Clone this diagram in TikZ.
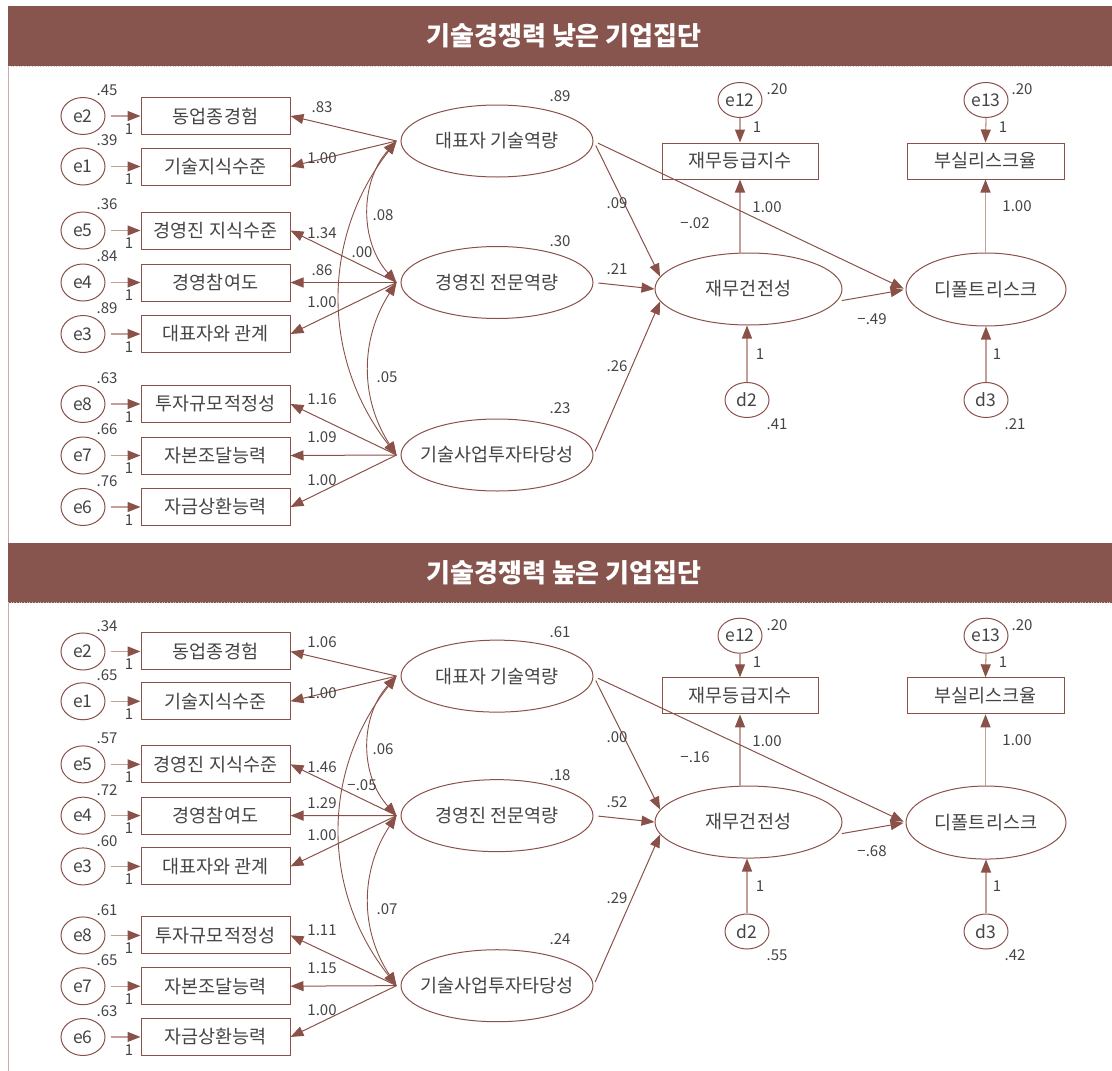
\documentclass[tikz,border=0pt]{standalone}
\usepackage{fontspec}
\setmainfont{Noto Sans CJK KR}
\usetikzlibrary{shapes.geometric,arrows.meta,calc}
\definecolor{dk}{HTML}{8A5149}
\definecolor{lt}{HTML}{C49E98}
\definecolor{hd}{HTML}{87554E}
\definecolor{tx}{HTML}{444444}
\definecolor{bd}{HTML}{C9ADA8}
\newcommand\korsz{\fontsize{18.5}{21}\selectfont}
\newcommand\elabsz{\fontsize{17.5}{20}\selectfont}
\newcommand\numsz{\fontsize{15}{18}\selectfont}
\newcommand\hdsz{\fontsize{26}{30}\selectfont}
\tikzset{
  arr/.style={draw=dk, line width=1pt, -{Triangle[length=13pt,width=10pt]}},
  larr/.style={draw=lt, line width=1.3pt, -{Triangle[length=13pt,width=10pt,color=dk]}},
  cov/.style={draw=dk, line width=0.9pt, {Triangle[length=13pt,width=10pt]}-{Triangle[length=13pt,width=10pt]}},
  obs/.style={draw=dk, line width=1pt, minimum width=149pt, minimum height=37pt, inner sep=0, font=\korsz, text=tx},
  err/.style={ellipse, draw=dk, line width=1pt, minimum width=44pt, minimum height=37pt, inner sep=0, font=\elabsz, text=tx},
  sm/.style={err, minimum height=35pt},
  lat/.style={ellipse, draw=dk, line width=1pt, minimum width=192pt, minimum height=72pt, inner sep=0, font=\korsz, text=tx},
  num/.style={inner sep=0, font=\numsz, text=tx},
  hdrbar/.style={fill=hd, minimum width=1104pt, minimum height=60pt, inner sep=0},
  hdrtxt/.style={text=white, font=\hdsz\bfseries, inner sep=0}
}
\newcommand\drawpanel[3]{%
  \node[hdrbar] (#1hdr) at (560,36) {};
  \node[hdrtxt] (#1ttl) at (564,36) {#2};
  \draw[gray!45, dotted, line width=.7pt] (#1hdr.south west) -- (#1hdr.south east);
  % latent variables
  \node[lat] (#1A) at (497,141) {\makebox[0pt]{대표자 기술역량}};
  \node[lat] (#1B) at (497,282.5) {\makebox[0pt]{경영진 전문역량}};
  \node[lat] (#1C) at (497,455) {\makebox[0pt]{기술사업투자타당성}};
  \coordinate (#1Ap) at ($(#1A.west)+(-4,0)$);
  \coordinate (#1Bp) at ($(#1B.west)+(-4,0)$);
  \coordinate (#1Cp) at ($(#1C.west)+(-4,0)$);
  \node[num] (#1rA) at (560,96) {\vRa};
  \node[num] (#1rB) at (560,241) {\vRb};
  \node[num] (#1rC) at (560,408) {\vRc};
  % indicators
  \foreach \ypos/\en/\lab/\vv/\lw/\lv/\ly in {#3} {
    \node[err] (#1\en) at (83,\ypos) {\en};
    \node[obs] (#1b\en) at (215.5,\ypos) {\lab};
    \draw[larr] ($(#1\en.east)+(5,0)$) -- (#1b\en.west);
    \node[num] at (129,\ypos+13) {1};
    \node[num] at (107,\ypos-26) {\vv};
    \draw[arr] (#1\lv p) -- (#1b\en.east);
    \node[num] at (322,\ly) {\lw};
  }
  % covariances
  \draw[cov] (#1Ap) to[bend right=42] (#1Bp);
  \draw[cov] (#1Bp) to[bend right=33] (#1Cp);
  \draw[cov] (#1Ap) to[bend right=38] (#1Cp);
  \node[num] at (383,215) {\vCab};
  \node[num] at (362,252) {\vCac};
  \node[num] at (387,377) {\vCbc};
  % right part
  \node[lat, minimum width=187pt] (#1F) at (748.5,289) {\makebox[0pt]{재무건전성}};
  \node[lat, minimum width=160pt, minimum height=73pt] (#1D) at (986,289.5) {\makebox[0pt]{디폴트리스크}};
  \node[obs, minimum width=156pt, minimum height=36pt] (#1G) at (740,161) {재무등급지수};
  \node[obs, minimum width=157pt, minimum height=36pt] (#1H) at (985.5,161) {부실리스크율};
  \node[sm] (#1eA) at (740,100) {e12};
  \node[sm] (#1eB) at (986,100) {e13};
  \node[sm] (#1dA) at (747,400) {d2};
  \node[sm] (#1dB) at (986,400) {d3};
  \draw[larr] (#1eA.south) -- (#1G.north);
  \draw[larr] (#1eB.south) -- (#1H.north);
  \draw[larr] (#1G.south |- #1F.north) -- (#1G.south);
  \draw[larr] (#1H.south |- #1D.north) -- (#1H.south);
  \draw[larr] (#1dA.north) -- (#1dA.north |- #1F.south);
  \draw[larr] (#1dB.north) -- (#1D.south);
  \draw[arr, shorten <=5pt] (#1A.east) -- (#1F.172);
  \draw[arr, shorten <=5pt] (#1B.east) -- (#1F.west);
  \draw[arr, shorten <=4pt] (#1C.east) -- (#1F.188);
  \draw[arr, shorten <=5pt, shorten >=2pt] (#1A.east) -- (#1D.west);
  \draw[arr, shorten <=5pt, shorten >=2pt] (#1F.-8) -- (#1D.west);
  \node[num] at (617,203) {\vPa};
  \node[num] at (617,269) {\vPb};
  \node[num] at (617,366) {\vPc};
  \node[num] at (695,223) {\vPd};
  \node[num] at (872,319) {\vPe};
  \node[num] at (767,207) {1.00};
  \node[num] at (1017,206) {1.00};
  \node[num] at (777,89) {.20};
  \node[num] at (1022,89) {.20};
  \node[num] at (757,127) {1};
  \node[num] at (1003,127) {1};
  \node[num] at (760,354) {1};
  \node[num] at (997,354) {1};
  \node[num] at (777,424) {\vDa};
  \node[num] at (1015,424) {\vDb};
}
\begin{document}
\begin{tikzpicture}[x=1pt,y=-1pt]
\useasboundingbox (0,0) rectangle (1112,1071);
\draw[bd, line width=1.3pt] (8.5,60) -- (8.5,1071);
% ---------- low group ----------
\def\vRa{.89}\def\vRb{.30}\def\vRc{.23}
\def\vCab{.08}\def\vCac{.00}\def\vCbc{.05}
\def\vPa{.09}\def\vPb{.21}\def\vPc{.26}\def\vPd{−.02}\def\vPe{−.49}
\def\vDa{.41}\def\vDb{.21}
\drawpanel{t}{기술경쟁력 낮은 기업집단}{116/e2/동업종경험/.45/.83/A/107, 166.5/e1/기술지식수준/.39/1.00/A/158, 230.5/e5/경영진 지식수준/.36/1.34/B/233, 282.5/e4/경영참여도/.84/.86/B/270, 334/e3/대표자와 관계/.89/1.00/B/302, 404/e8/투자규모적정성/.63/1.16/C/399, 455.5/e7/자본조달능력/.66/1.09/C/437, 507/e6/자금상환능력/.76/1.00/C/480}
% ---------- high group ----------
\begin{scope}[yshift=-537.1pt, yscale=0.986]
\def\vRa{.61}\def\vRb{.18}\def\vRc{.24}
\def\vCab{.06}\def\vCac{−.05}\def\vCbc{.07}
\def\vPa{.00}\def\vPb{.52}\def\vPc{.29}\def\vPd{−.16}\def\vPe{−.68}
\def\vDa{.55}\def\vDb{.42}
\drawpanel{b}{기술경쟁력 높은 기업집단}{116/e2/동업종경험/.34/1.06/A/107, 166.5/e1/기술지식수준/.65/1.00/A/158, 230.5/e5/경영진 지식수준/.57/1.46/B/233, 282.5/e4/경영참여도/.72/1.29/B/270, 334/e3/대표자와 관계/.60/1.00/B/302, 404/e8/투자규모적정성/.61/1.11/C/399, 455.5/e7/자본조달능력/.65/1.15/C/437, 507/e6/자금상환능력/.63/1.00/C/480}
\end{scope}
\end{tikzpicture}
\end{document}
